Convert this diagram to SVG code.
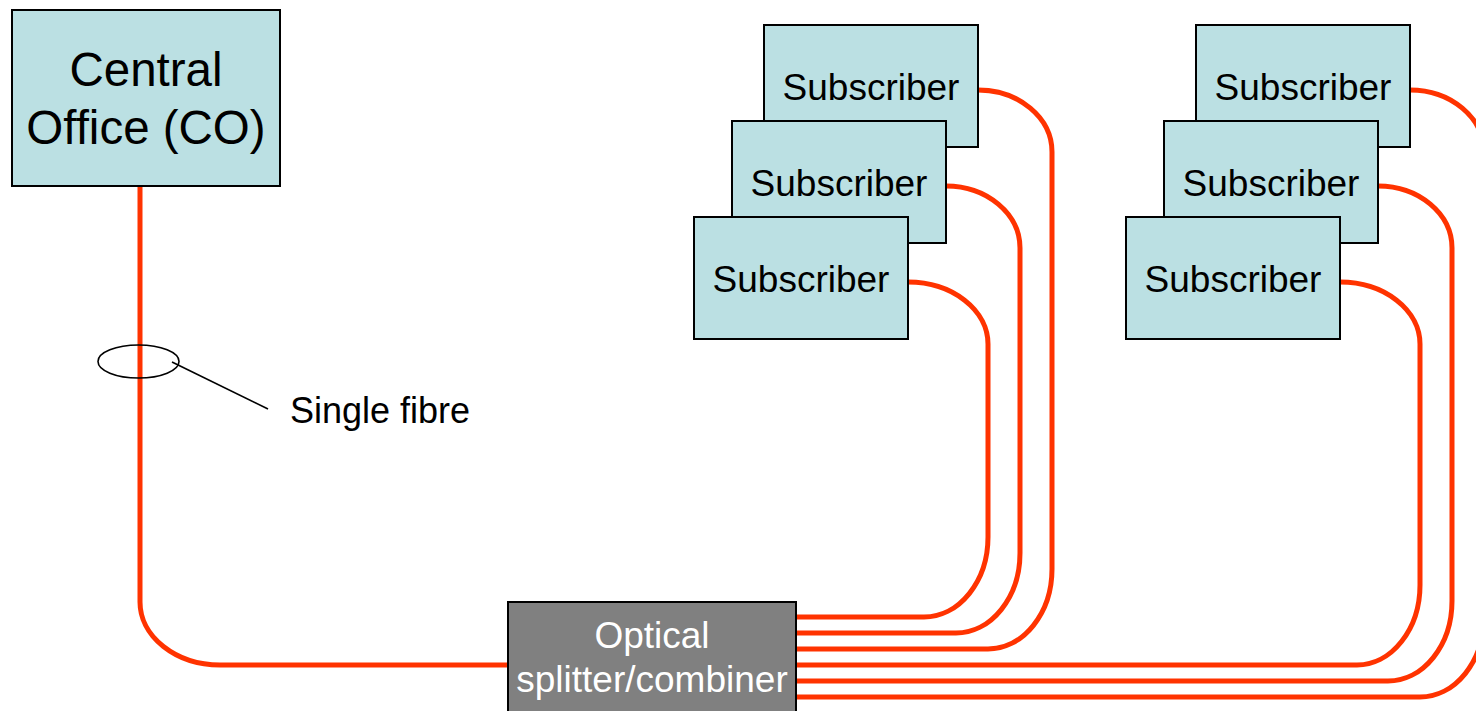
<svg xmlns="http://www.w3.org/2000/svg" width="1476" height="711" viewBox="0 0 1476 711">
  <style>
    .box { fill: #BBE0E3; stroke: #000; stroke-width: 2; }
    .split { fill: #808080; stroke: #000; stroke-width: 2; }
    .fibre { fill: none; stroke: #FF3300; stroke-width: 5; }
    .label { font-family: "Liberation Sans", Arial, sans-serif; fill: #000; text-anchor: middle; }
    .sub { font-size: 37px; }
    .thin { fill: none; stroke: #000; stroke-width: 1.6; }
  </style>
  <rect width="1476" height="711" fill="#fff"/>

  <!-- fibre runs -->
  <g id="connectors">
    <path class="fibre" d="M140,186 V602 A80,63 0 0 0 220,665 H508"/>
    <path class="fibre" d="M978,90 A74,62 0 0 1 1052,152 V569 A64,80 0 0 1 988,649 H796"/>
    <path class="fibre" d="M946,186 A74,62 0 0 1 1020,248 V553 A64,80 0 0 1 956,633 H796"/>
    <path class="fibre" d="M908,282 A80,62 0 0 1 988,344 V537 A64,80 0 0 1 924,617 H796"/>
    <path class="fibre" d="M1410,90 A74,62 0 0 1 1484,152 V617 A64,80 0 0 1 1420,697 H796"/>
    <path class="fibre" d="M1378,186 A74,62 0 0 1 1452,248 V601 A64,80 0 0 1 1388,681 H796"/>
    <path class="fibre" d="M1340,282 A80,62 0 0 1 1420,344 V585 A63,80 0 0 1 1357,665 H796"/>
  </g>

  <g id="central-office">
    <rect class="box" x="12" y="10" width="268" height="176"/>
    <text class="label" x="146" y="86" font-size="47.5">Central</text>
    <text class="label" x="146" y="144" font-size="47.5">Office (CO)</text>
  </g>

  <g id="single-fibre-callout">
    <ellipse class="thin" cx="138.5" cy="361.5" rx="40.5" ry="16.5"/>
    <line class="thin" x1="172" y1="362" x2="268" y2="409"/>
    <text class="label" x="380" y="423" font-size="36">Single fibre</text>
  </g>

  <g id="splitter">
    <rect class="split" x="508" y="602" width="288" height="120"/>
    <text class="label" x="652" y="648" font-size="37" style="fill:#fff">Optical</text>
    <text class="label" x="652" y="692" font-size="37" style="fill:#fff">splitter/combiner</text>
  </g>

  <g id="subscriber-a1">
    <rect class="box" x="764" y="25" width="214" height="122"/>
    <text class="label sub" x="871" y="100">Subscriber</text>
  </g>
  <g id="subscriber-a2">
    <rect class="box" x="732" y="121" width="214" height="122"/>
    <text class="label sub" x="839" y="196">Subscriber</text>
  </g>
  <g id="subscriber-a3">
    <rect class="box" x="694" y="217" width="214" height="122"/>
    <text class="label sub" x="801" y="292">Subscriber</text>
  </g>

  <g id="subscriber-b1">
    <rect class="box" x="1196" y="25" width="214" height="122"/>
    <text class="label sub" x="1303" y="100">Subscriber</text>
  </g>
  <g id="subscriber-b2">
    <rect class="box" x="1164" y="121" width="214" height="122"/>
    <text class="label sub" x="1271" y="196">Subscriber</text>
  </g>
  <g id="subscriber-b3">
    <rect class="box" x="1126" y="217" width="214" height="122"/>
    <text class="label sub" x="1233" y="292">Subscriber</text>
  </g>
</svg>
